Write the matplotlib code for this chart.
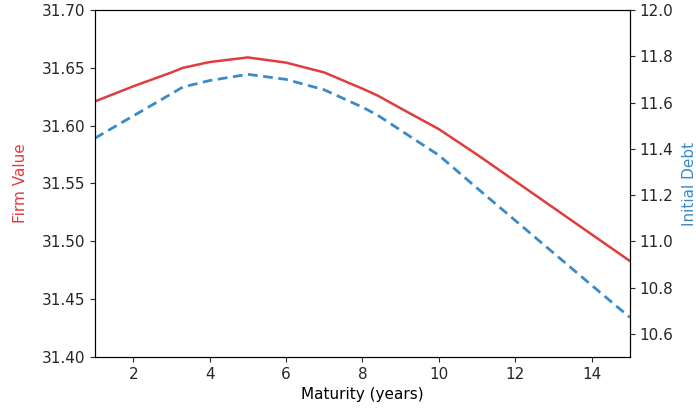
import numpy as np
import matplotlib.pyplot as plt

# maturity grid (years)
maturity = [1, 2, 3, 3.3, 4, 5, 6, 7, 8, 8.4, 9, 10, 11, 12, 13, 14, 15]
firm_value = [31.621, 31.634, 31.646, 31.650, 31.655, 31.659, 31.6545, 31.646,
              31.632, 31.626, 31.615, 31.597, 31.575, 31.552, 31.529, 31.506, 31.483]
initial_debt = [11.446, 11.542, 11.638, 11.667, 11.695, 11.722, 11.70, 11.655,
                11.58, 11.545, 11.48, 11.372, 11.23, 11.09, 10.95, 10.81, 10.671]

red = "#e03c3c"
blue = "#3a8ac8"

fig = plt.figure(figsize=(6.96, 4.13), dpi=100)
ax1 = fig.add_axes([0.1365, 0.1356, 0.7685, 0.8402])
ax1.plot(maturity, firm_value, "-", color=red, lw=1.8)
ax1.set_xlim(1, 15)
ax1.set_ylim(31.40, 31.70)
ax1.set_xticks([2, 4, 6, 8, 10, 12, 14])
ax1.set_yticks(np.arange(31.40, 31.701, 0.05))
ax1.set_ylabel("Firm Value", color=red, fontsize=11, labelpad=10)
ax1.set_xlabel("Maturity (years)", fontsize=11)

ax2 = ax1.twinx()
ax2.plot(maturity, initial_debt, "--", color=blue, lw=2, dashes=(3.5, 2))
ax2.set_ylim(10.5, 12.0)
ax2.set_yticks([10.6, 10.8, 11.0, 11.2, 11.4, 11.6, 11.8, 12.0])
ax2.set_ylabel("Initial Debt", color=blue, fontsize=11, labelpad=6)

for ax in (ax1, ax2):
    ax.tick_params(labelsize=11, colors="#262626")

fig.savefig("out.png", dpi=100)
